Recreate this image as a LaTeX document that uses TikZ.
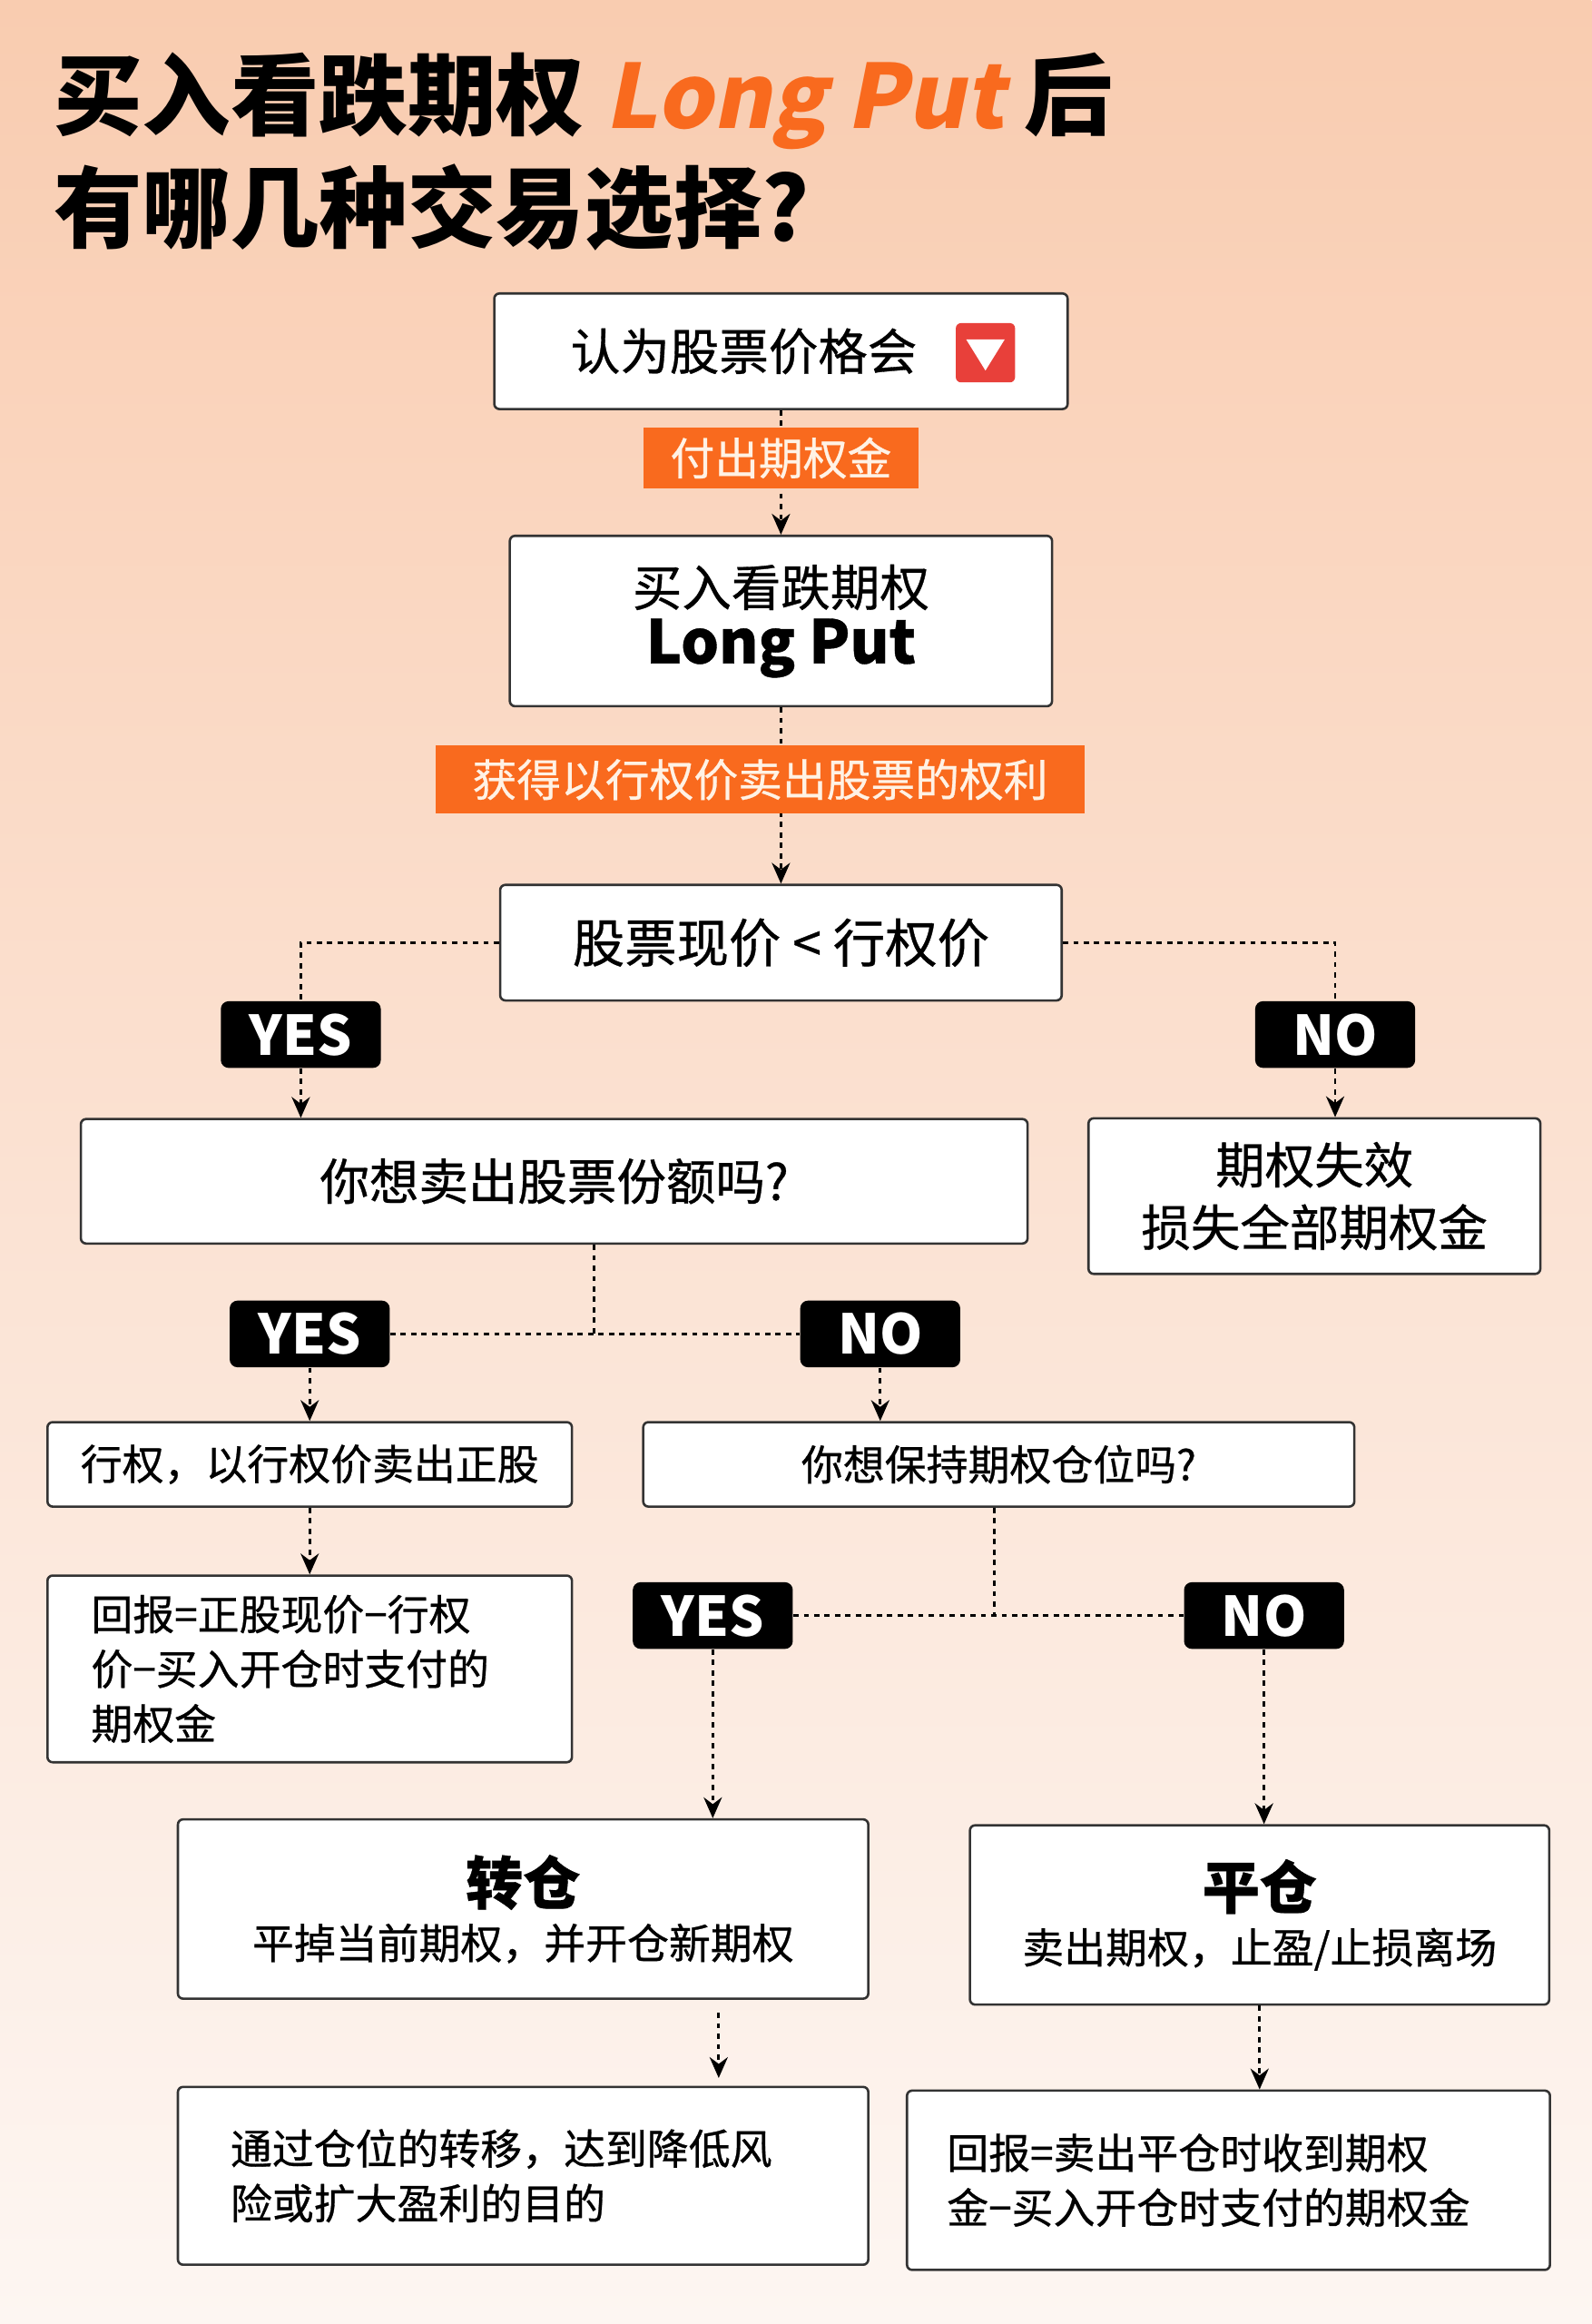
\documentclass[tikz,border=0pt]{standalone}
\usepackage{fontspec}
\setmainfont{Noto Sans CJK SC}
\newfontfamily\lpfont[FakeSlant=0.2]{Noto Sans CJK SC}
\newfontfamily\medfont[FakeBold=0.6]{Noto Sans CJK SC}
\usetikzlibrary{arrows.meta,positioning}
\definecolor{tagorange}{HTML}{F96A1E}
\definecolor{bgtop}{HTML}{F8C3A2}
\definecolor{bgbot}{HTML}{FDF6F2}
\definecolor{iconred}{HTML}{E8403A}
\tikzset{
  box/.style={draw=black!80, line width=0.9pt, fill=white, rounded corners=2pt, align=center, font=\medfont\fontsize{19}{24}\selectfont},
  smallbox/.style={box, font=\medfont\fontsize{16}{21}\selectfont},
  tag/.style={fill=tagorange, text=white!90!orange, inner sep=0pt, font=\medfont\fontsize{17}{20}\selectfont},
  yn/.style={fill=black, text=white, rounded corners=3pt, minimum width=2.16cm, minimum height=0.9cm, inner sep=0pt, font=\bfseries\fontsize{21}{24}\selectfont},
  link/.style={line width=1pt, dash pattern=on 2pt off 2pt, -{Stealth[length=8pt,width=7pt]}},
  plain/.style={line width=1pt, dash pattern=on 2pt off 2pt}
}
\begin{document}
\begin{tikzpicture}[x=0.02cm, y=-0.02cm]
\useasboundingbox (0,0) rectangle (1074,1568);
\shade[top color=bgtop!85!white, bottom color=bgbot, middle color=bgbot!60!bgtop] (0,0) rectangle (1074,1568);

% title
\node[anchor=west, inner sep=0pt, font=\bfseries\fontsize{34}{40}\selectfont] (title1) at (36,68)
  {买入看跌期权 {\lpfont\bfseries\color{tagorange}Long Put} 后};
\node[anchor=west, inner sep=0pt, font=\bfseries\fontsize{34}{40}\selectfont] (title2) at (36,140)
  {有哪几种交易选择?};

% boxes
\node[box, minimum width=7.74cm, minimum height=1.56cm] (view) at (527,237) {认为股票价格会\hspace{1.0cm}};
\node[fill=iconred, rounded corners=2pt, minimum size=0.8cm, inner sep=0pt] (icon) at (665,238) {};
\fill[white] (652,229) -- (678,229) -- (665,250) -- cycle;
\node[box, minimum width=7.32cm, minimum height=2.3cm, font=\medfont\fontsize{19}{24}\selectfont] (buy) at (527,419)
  {买入看跌期权\\[-2pt]{\bfseries\fontsize{23}{28}\selectfont Long Put}};
\node[box, minimum width=7.58cm, minimum height=1.56cm, font=\medfont\fontsize{20}{24}\selectfont] (cmp) at (527,636) {股票现价 < 行权价};
\node[box, minimum width=12.78cm, minimum height=1.68cm] (sell) at (374,797) {你想卖出股票份额吗?};
\node[box, minimum width=6.1cm, minimum height=2.1cm] (expire) at (887,807) {期权失效\\损失全部期权金};
\node[smallbox, minimum width=7.08cm, minimum height=1.14cm] (exer) at (209,988) {行权，以行权价卖出正股};
\node[smallbox, minimum width=9.6cm, minimum height=1.14cm] (keep) at (674,988) {你想保持期权仓位吗?};
\node[smallbox, minimum width=7.08cm, minimum height=2.52cm, align=left, text width=5.9cm] (ret1) at (209,1126)
  {回报=正股现价−行权\\价−买入开仓时支付的\\期权金};
\node[smallbox, minimum width=9.32cm, minimum height=2.42cm] (roll) at (353,1288)
  {{\bfseries\fontsize{22}{26}\selectfont 转仓}\\平掉当前期权，并开仓新期权};
\node[smallbox, minimum width=7.82cm, minimum height=2.42cm] (close) at (850,1292)
  {{\bfseries\fontsize{22}{26}\selectfont 平仓}\\卖出期权，止盈/止损离场};
\node[smallbox, minimum width=9.32cm, minimum height=2.4cm, align=left, text width=7.9cm] (goal) at (353,1468)
  {通过仓位的转移，达到降低风\\险或扩大盈利的目的};
\node[smallbox, minimum width=8.68cm, minimum height=2.42cm, align=left, text width=7.6cm] (ret2) at (829,1471)
  {回报=卖出平仓时收到期权\\金−买入开仓时支付的期权金};

% yes / no
\node[yn] (yes1) at (203,698) {YES};
\node[yn] (no1) at (901,698) {NO};
\node[yn] (yes2) at (209,900) {YES};
\node[yn] (no2) at (594,900) {NO};
\node[yn] (yes3) at (481,1090) {YES};
\node[yn] (no3) at (853,1090) {NO};

% links
\draw[link] (view) -- (buy);
\draw[link] (buy) -- (cmp);
\draw[plain] (cmp.west) -| (yes1.north);
\draw[link] (yes1) -- (yes1 |- sell.north);
\draw[plain] (cmp.east) -| (no1.north);
\draw[link] (no1) -- (no1 |- expire.north);
\draw[plain] (sell.south -| 401,0) -- (401,900);
\draw[plain] (yes2) -- (no2);
\draw[link] (yes2) -- (exer);
\draw[link] (no2) -- (no2 |- keep.north);
\draw[link] (exer) -- (ret1);
\draw[plain] (keep.south -| 671,0) -- (671,1090);
\draw[plain] (yes3) -- (no3);
\draw[link] (yes3) -- (yes3 |- roll.north);
\draw[link] (no3) -- (no3 |- close.north);
\draw[link] (485,1358) -- (485 ,1402);
\draw[link] (close.south -| 850,0) -- (ret2.north -| 850,0);

% tags on the links
\node[tag, minimum width=3.72cm, minimum height=0.82cm] (pay) at (527,309) {付出期权金};
\node[tag, minimum width=8.76cm, minimum height=0.92cm] (right) at (513,526) {获得以行权价卖出股票的权利};
\end{tikzpicture}
\end{document}
